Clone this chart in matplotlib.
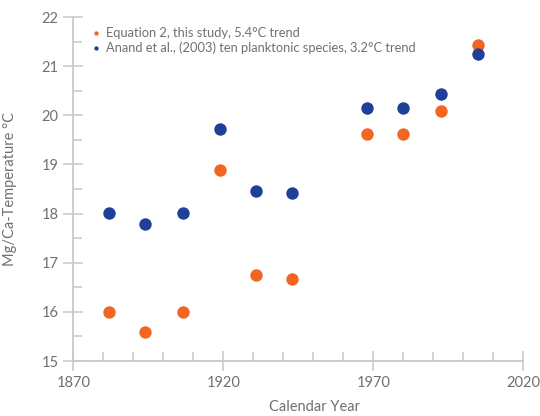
import matplotlib
matplotlib.use("Agg")
import matplotlib.pyplot as plt
from matplotlib.ticker import MultipleLocator

plt.rcParams['font.family'] = ['Lato', 'DejaVu Sans']

# Sample years
years = [1882, 1894, 1906.5, 1919, 1931, 1943, 1968, 1980, 1992.5, 2005]

# Mg/Ca temperatures (°C)
eq2_temps = [16.0, 15.6, 16.0, 18.88, 16.75, 16.66, 19.62, 19.62, 20.08, 21.44]
anand_temps = [18.02, 17.78, 18.02, 19.73, 18.46, 18.42, 20.15, 20.15, 20.43, 21.25]

series_labels = ["Equation 2, this study, 5.4°C trend",
                 "Anand et al., (2003) ten planktonic species, 3.2°C trend"]

x_ticks = [1870, 1920, 1970, 2020]
y_ticks = [15, 16, 17, 18, 19, 20, 21, 22]

orange = "#F26522"
blue = "#1F3F99"
axis_grey = "#C8C8C8"
text_grey = "#707070"

fig = plt.figure(figsize=(5.40, 4.16), dpi=100)
ax = fig.add_axes([0.1357, 0.1322, 0.969 - 0.1357, 0.959 - 0.1322])

ax.scatter(years, eq2_temps, s=80, color=orange, linewidths=0, zorder=3,
           label=series_labels[0])
ax.scatter(years, anand_temps, s=80, color=blue, linewidths=0, zorder=3,
           label=series_labels[1])

ax.set_xlim(1870, 2020)
ax.set_ylim(15, 22)
ax.set_xticks(x_ticks)
ax.set_yticks(y_ticks)
ax.xaxis.set_minor_locator(MultipleLocator(10))
ax.yaxis.set_minor_locator(MultipleLocator(0.5))

for side in ("top", "right"):
    ax.spines[side].set_visible(False)
for side in ("left", "bottom"):
    ax.spines[side].set_color(axis_grey)
    ax.spines[side].set_linewidth(1.3)

ax.tick_params(which="major", direction="inout", length=15, width=1.1,
               color=axis_grey, labelcolor=text_grey, labelsize=10.5, pad=3)
ax.tick_params(which="minor", direction="in", length=6.5, width=1.1,
               color=axis_grey)

ax.set_xlabel("Calendar Year", color=text_grey, fontsize=10.5)
ax.xaxis.set_label_coords(0.536, -0.112)
ax.set_ylabel("Mg/Ca-Temperature °C", color=text_grey, fontsize=10.5)
ax.yaxis.set_label_coords(-0.125, 0.5)

leg = ax.legend(loc="upper left", bbox_to_anchor=(0.022, 0.995), frameon=False,
                fontsize=9.3, markerscale=0.35, handletextpad=0.35,
                labelspacing=0.2, handlelength=0.8, borderaxespad=0.2)
for t in leg.get_texts():
    t.set_color(text_grey)

fig.savefig("out.png", dpi=100)
